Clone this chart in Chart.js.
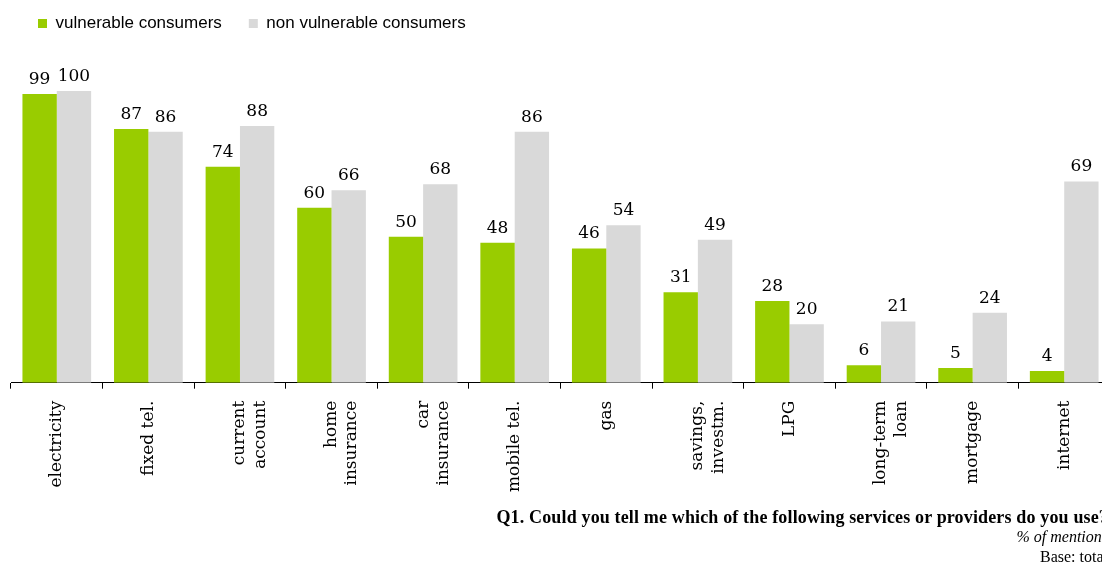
<!DOCTYPE html>
<html>
<head>
<meta charset="utf-8">
<script src="https://cdn.jsdelivr.net/npm/chart.js@4/dist/chart.umd.min.js"></script>
<style>
    html, body { margin: 0; padding: 0; background: #fff; overflow: hidden; }
    #wrap { position: relative; width: 1112px; height: 564px; }
    #notes {
        position: absolute; right: 4px; top: 507px; text-align: right;
        font-family: "Liberation Serif", serif; color: #000; line-height: 20px;
    }
    #notes .q { font-weight: bold; font-size: 18px; letter-spacing: 0.15px; }
    #notes .m { font-style: italic; font-size: 16px; }
    #notes .b { font-size: 16px; }
</style>
</head>
<body>
<div id="wrap">
    <canvas id="usageChart" width="1112" height="564"></canvas>
    <div id="notes">
        <div class="q">Q1. Could you tell me which of the following services or providers do you use?</div>
        <div class="m">% of mentions</div>
        <div class="b">Base: total</div>
    </div>
</div>
<script>
// services asked about, in the order shown
const services = [
    'electricity', 'fixed tel.', ['current', 'account'], ['home', 'insurance'],
    ['car', 'insurance'], 'mobile tel.', 'gas', ['savings,', 'investm.'],
    'LPG', ['long-term', 'loan'], 'mortgage', 'internet'
];

// % of mentions per group
const vulnerable = [99, 87, 74, 60, 50, 48, 46, 31, 28, 6, 5, 4];
const nonVulnerable = [100, 86, 88, 66, 68, 86, 54, 49, 20, 21, 24, 69];

const serif = '"DejaVu Serif", serif';

// writes the value above every bar
const valueLabels = {
    id: 'valueLabels',
    afterDatasetsDraw(chart) {
        const c = chart.ctx;
        c.save();
        c.font = '17px ' + serif;
        c.fillStyle = '#000';
        c.textAlign = 'center';
        c.textBaseline = 'bottom';
        chart.data.datasets.forEach((ds, i) => {
            chart.getDatasetMeta(i).data.forEach((bar, j) => {
                c.fillText(ds.data[j], bar.x, bar.y - 6);
            });
        });
        c.restore();
    }
};

// leaves room between the legend and the bars
const legendGap = {
    id: 'legendGap',
    beforeInit(chart) {
        const fit = chart.legend.fit;
        chart.legend.fit = function () {
            fit.bind(chart.legend)();
            this.height += 49;
        };
    }
};

const ctx = document.getElementById('usageChart').getContext('2d');

new Chart(ctx, {
    type: 'bar',
    data: {
        labels: services,
        datasets: [{
            label: 'vulnerable consumers',
            data: vulnerable,
            backgroundColor: '#99cc00'
        }, {
            label: 'non vulnerable consumers',
            data: nonVulnerable,
            backgroundColor: '#d9d9d9'
        }]
    },
    options: {
        responsive: false,
        animation: false,
        layout: {
            padding: { left: 11, right: 2, top: -12, bottom: 60 }
        },
        datasets: {
            bar: { barPercentage: 1, categoryPercentage: 0.75 }
        },
        scales: {
            x: {
                grid: {
                    display: true,
                    drawOnChartArea: false,
                    color: '#000',
                    tickLength: 6,
                    offset: true
                },
                border: { display: true, color: '#000', width: 1 },
                ticks: {
                    color: '#000',
                    font: { family: serif, size: 17 },
                    maxRotation: 90,
                    minRotation: 90,
                    autoSkip: false,
                    padding: 12
                }
            },
            y: {
                display: false,
                min: 0,
                max: 100
            }
        },
        plugins: {
            legend: {
                position: 'top',
                align: 'start',
                labels: {
                    boxWidth: 9,
                    boxHeight: 9,
                    padding: 27,
                    color: '#000',
                    font: { family: '"Liberation Sans", Arial, sans-serif', size: 17 }
                }
            },
            tooltip: { enabled: false }
        }
    },
    plugins: [valueLabels, legendGap]
});
</script>
</body>
</html>
